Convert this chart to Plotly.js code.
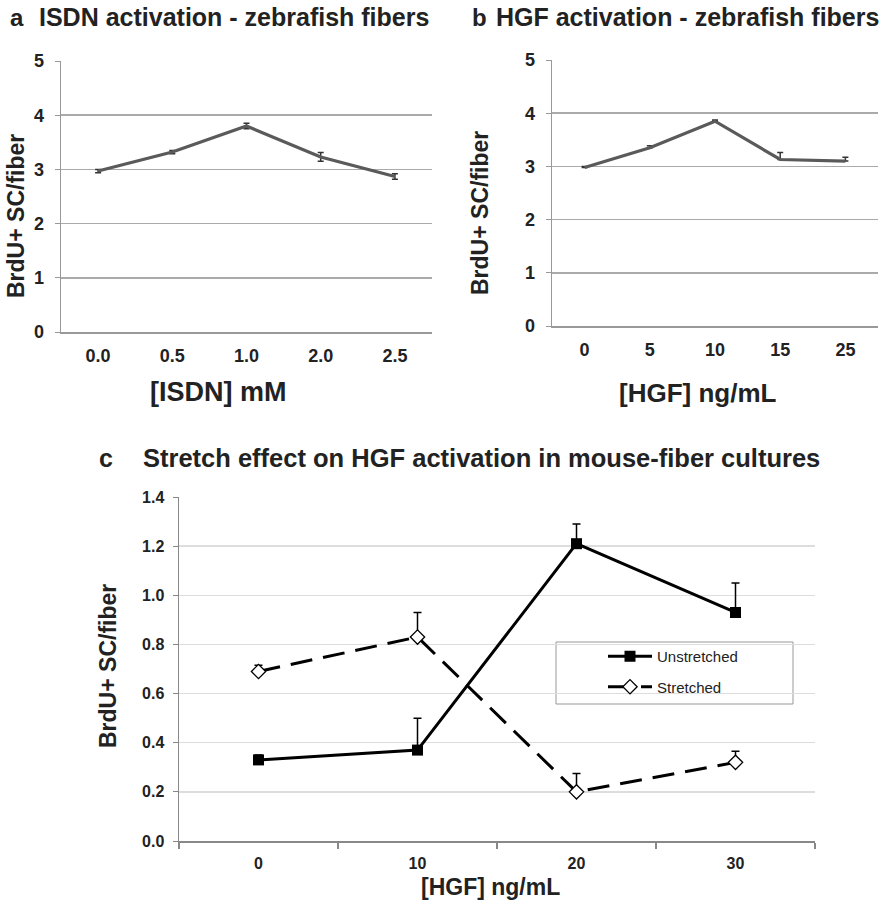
<!DOCTYPE html>
<html>
<head>
<meta charset="utf-8">
<script src="https://cdn.plot.ly/plotly-3.0.1.min.js"></script>
<style>html,body{margin:0;padding:0;background:#fff;}#chart{width:890px;height:904px;}</style>
</head>
<body>
<div id="chart"></div>
<script>
// ---- Data ----
const isdnCats = ['0.0', '0.5', '1.0', '2.0', '2.5'];
const isdnVals = [2.97, 3.32, 3.80, 3.23, 2.87];
const isdnErr  = [0.03, 0.03, 0.05, 0.08, 0.05];

const hgfCats = ['0', '5', '10', '15', '25'];
const hgfVals = [2.98, 3.35, 3.85, 3.13, 3.10];
const hgfErr  = [0.02, 0.04, 0.02, 0.13, 0.07];
const hgfErrMinus = [0, 0, 0, 0, 0];

const mouseCats = ['0', '10', '20', '30'];
const unstretched    = [0.33, 0.37, 1.21, 0.93];
const unstretchedErr = [0.02, 0.13, 0.08, 0.12];
const stretched      = [0.69, 0.83, 0.20, 0.32];
const stretchedErr   = [0.025, 0.10, 0.075, 0.045];
const noErr = [0, 0, 0, 0];

const yTitle = 'BrdU+ SC/fiber';
const titleA = 'ISDN activation - zebrafish fibers';
const titleB = 'HGF activation - zebrafish fibers';
const titleC = 'Stretch effect on HGF activation in mouse-fiber cultures';
const xTitleA = '[ISDN] mM';
const xTitleB = '[HGF] ng/mL';
const xTitleC = '[HGF] ng/mL';
const legendNames = ['Unstretched', 'Stretched'];

// ---- Layout helpers ----
const W = 890, H = 904;
const px = v => v / W;
const py = v => 1 - v / H;
const SANS = '"Liberation Sans", Arial, sans-serif';

const lineGrey = '#5a5a5a';

const traces = [
  {
    x: isdnCats, y: isdnVals, xaxis: 'x', yaxis: 'y', type: 'scatter', mode: 'lines',
    line: {color: lineGrey, width: 3.2}, showlegend: false,
    error_y: {type: 'data', array: isdnErr, visible: true, color: '#333', thickness: 1.5, width: 3}
  },
  {
    x: hgfCats, y: hgfVals, xaxis: 'x2', yaxis: 'y2', type: 'scatter', mode: 'lines',
    line: {color: lineGrey, width: 3.2}, showlegend: false,
    error_y: {type: 'data', symmetric: false, array: hgfErr, arrayminus: hgfErrMinus, visible: true, color: '#333', thickness: 1.5, width: 3}
  },
  {
    x: mouseCats, y: unstretched, xaxis: 'x3', yaxis: 'y3', type: 'scatter', mode: 'lines+markers',
    name: legendNames[0], legendgroup: 'g1',
    line: {color: '#000', width: 3},
    marker: {symbol: 'square', size: 11, color: '#000'},
    error_y: {type: 'data', symmetric: false, array: unstretchedErr, arrayminus: noErr, visible: true, color: '#000', thickness: 1.5, width: 4}
  },
  {
    x: mouseCats, y: stretched, xaxis: 'x3', yaxis: 'y3', type: 'scatter', mode: 'lines+markers',
    name: legendNames[1], legendgroup: 'g2',
    line: {color: '#000', width: 3, dash: '22px,11px'},
    marker: {symbol: 'diamond', size: 11, color: '#fff', line: {color: '#000', width: 1.3}},
    error_y: {type: 'data', symmetric: false, array: stretchedErr, arrayminus: noErr, visible: true, color: '#000', thickness: 1.5, width: 4}
  }
];

const abTickFont = {family: SANS, size: 18, color: '#222', weight: 'bold'};
const cTickFont = {family: SANS, size: 16, color: '#222', weight: 'bold'};

function abX(domain) {
  return {
    domain: domain, type: 'category', range: [-0.5, 4.5], showgrid: false, zeroline: false,
    showline: true, linecolor: '#999', linewidth: 1.5, ticks: '', tickfont: abTickFont,
    ticklabelstandoff: 7, fixedrange: true
  };
}
function abY(domain, anchor) {
  return {
    domain: domain, range: [0, 5], dtick: 1, showgrid: true, gridcolor: '#aaa', gridwidth: 1.5,
    zeroline: false, showline: true, linecolor: '#999', linewidth: 1.5, ticks: 'outside', ticklen: 5,
    tickcolor: '#999', tickfont: abTickFont, ticklabelstandoff: 7, anchor: anchor, fixedrange: true
  };
}

const layout = {
  width: W, height: H, autosize: false,
  margin: {l: 0, r: 0, t: 0, b: 0},
  paper_bgcolor: '#fff', plot_bgcolor: '#fff',
  font: {family: SANS, color: '#222'},
  xaxis: Object.assign(abX([px(61), px(432)]), {anchor: 'y'}),
  yaxis: abY([py(332), py(61)], 'x'),
  xaxis2: Object.assign(abX([px(552), px(878)]), {anchor: 'y2'}),
  yaxis2: abY([py(326), py(60)], 'x2'),
  xaxis3: {
    domain: [px(179), px(815)], anchor: 'y3', type: 'category', range: [-0.5, 3.5],
    showgrid: false, zeroline: false, showline: true, linecolor: '#888', linewidth: 1.5,
    ticks: 'outside', tickson: 'boundaries', ticklen: 6, tickcolor: '#888', tickwidth: 1.5,
    tickfont: cTickFont, ticklabelstandoff: 7, fixedrange: true
  },
  yaxis3: {
    domain: [py(841), py(497)], anchor: 'x3', range: [0, 1.4], dtick: 0.2, tickformat: '.1f',
    showgrid: true, gridcolor: '#ddd', gridwidth: 1.5, zeroline: false,
    showline: true, linecolor: '#888', linewidth: 1.5, ticks: 'outside', ticklen: 5,
    tickcolor: '#888', tickfont: cTickFont, ticklabelstandoff: 5, fixedrange: true
  },
  showlegend: true,
  legend: {
    x: px(603), y: py(640), xanchor: 'left', yanchor: 'top',
    bgcolor: 'rgba(0,0,0,0)', borderwidth: 0, itemwidth: 44,
    font: {family: SANS, size: 15, color: '#222'},
    traceorder: 'grouped', tracegroupgap: 8
  },
  shapes: [
    {type: 'rect', xref: 'paper', yref: 'paper', x0: px(556), x1: px(793), y0: py(704), y1: py(642),
     line: {color: '#999', width: 1}, fillcolor: '#fff', layer: 'below'}
  ],
  annotations: [
    {text: 'a', x: px(8), y: py(17), xref: 'paper', yref: 'paper', xanchor: 'left', yanchor: 'middle', showarrow: false,
     font: {family: SANS, size: 24, weight: 'bold', color: '#222'}},
    {text: titleA, x: px(37), y: py(17), xref: 'paper', yref: 'paper', xanchor: 'left', yanchor: 'middle', showarrow: false,
     font: {family: SANS, size: 25, weight: 'bold', color: '#222'}},
    {text: 'b', x: px(470), y: py(17), xref: 'paper', yref: 'paper', xanchor: 'left', yanchor: 'middle', showarrow: false,
     font: {family: SANS, size: 24, weight: 'bold', color: '#222'}},
    {text: titleB, x: px(494), y: py(17), xref: 'paper', yref: 'paper', xanchor: 'left', yanchor: 'middle', showarrow: false,
     font: {family: SANS, size: 25, weight: 'bold', color: '#222'}},
    {text: 'c', x: px(97), y: py(458), xref: 'paper', yref: 'paper', xanchor: 'left', yanchor: 'middle', showarrow: false,
     font: {family: SANS, size: 25, weight: 'bold', color: '#222'}},
    {text: titleC, x: px(141), y: py(458), xref: 'paper', yref: 'paper', xanchor: 'left', yanchor: 'middle', showarrow: false,
     font: {family: SANS, size: 25.5, weight: 'bold', color: '#222'}},
    {text: yTitle, x: px(16), y: py(216), xref: 'paper', yref: 'paper', xanchor: 'center', yanchor: 'middle', showarrow: false, textangle: -90,
     font: {family: SANS, size: 23, weight: 'bold', color: '#222'}},
    {text: yTitle, x: px(480), y: py(213), xref: 'paper', yref: 'paper', xanchor: 'center', yanchor: 'middle', showarrow: false, textangle: -90,
     font: {family: SANS, size: 23, weight: 'bold', color: '#222'}},
    {text: yTitle, x: px(108), y: py(666), xref: 'paper', yref: 'paper', xanchor: 'center', yanchor: 'middle', showarrow: false, textangle: -90,
     font: {family: SANS, size: 23, weight: 'bold', color: '#222'}},
    {text: xTitleA, x: px(218), y: py(392), xref: 'paper', yref: 'paper', xanchor: 'center', yanchor: 'middle', showarrow: false,
     font: {family: SANS, size: 27, weight: 'bold', color: '#222'}},
    {text: xTitleB, x: px(698), y: py(393), xref: 'paper', yref: 'paper', xanchor: 'center', yanchor: 'middle', showarrow: false,
     font: {family: SANS, size: 26, weight: 'bold', color: '#222'}},
    {text: xTitleC, x: px(490), y: py(887), xref: 'paper', yref: 'paper', xanchor: 'center', yanchor: 'middle', showarrow: false,
     font: {family: SANS, size: 23, weight: 'bold', color: '#222'}}
  ]
};

Plotly.newPlot('chart', traces, layout, {staticPlot: true, displayModeBar: false});
</script>
</body>
</html>
